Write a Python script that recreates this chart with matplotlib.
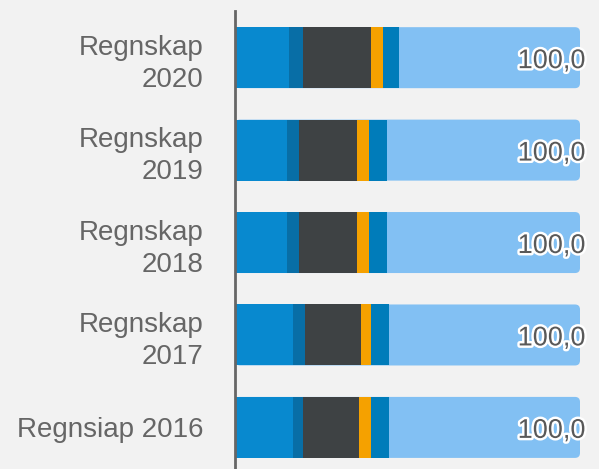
import matplotlib
matplotlib.use("Agg")
import matplotlib.pyplot as plt
import matplotlib.patheffects as pe
from matplotlib.patches import FancyBboxPatch
import numpy as np

plt.rcParams['font.family'] = ['Liberation Sans', 'DejaVu Sans']

categories = ["Regnskap\n2020", "Regnskap\n2019", "Regnskap\n2018", "Regnskap\n2017", "Regnsiap 2016"]
seg1 = [15.6, 15.1, 15.1, 16.8, 16.8]
seg2 = [4.1, 3.5, 3.5, 3.5, 2.9]
seg3 = [19.7, 16.8, 16.8, 16.2, 16.2]
seg4 = [3.5, 3.5, 3.5, 2.9, 3.5]
seg5 = [4.6, 5.2, 5.2, 5.2, 5.2]
seg6 = [52.5, 55.9, 55.9, 55.4, 55.4]
totals = [100.0, 100.0, 100.0, 100.0, 100.0]
total_labels = ["100,0", "100,0", "100,0", "100,0", "100,0"]

colors = ["#0889cf", "#086ea6", "#3e4244", "#f5a100", "#007cba", "#82c0f3"]
bg = "#f2f2f2"

W, H = 599, 469
fig = plt.figure(figsize=(W / 100, H / 100), dpi=100, facecolor=bg)
ax = fig.add_axes([235 / W, 0, (580 - 235) / W, (469 - 11) / H])
ax.set_facecolor(bg)

y = np.arange(len(categories))
bar_h = 0.66

# rounded light-blue background spanning full total (right corners visible)
px_x = (580 - 235) / 100.0
px_y = 92.0
r_units = 5 / px_x
aspect = (5 / px_y) / r_units
for yi, tot in zip(y, totals):
    p = FancyBboxPatch((0, yi - bar_h / 2), tot, bar_h,
                       boxstyle=f"round,pad=0,rounding_size={r_units}",
                       mutation_aspect=aspect, facecolor=colors[5],
                       edgecolor="none", zorder=1)
    ax.add_patch(p)

left = np.zeros(len(categories))
for vals, c in zip([seg1, seg2, seg3, seg4, seg5], colors[:5]):
    ax.barh(y, vals, left=left, height=bar_h, color=c, edgecolor="none", zorder=2)
    left += np.array(vals)

for yi, tot, lab in zip(y, totals, total_labels):
    ax.annotate(lab, xy=(tot, yi), xytext=(4, -2.5), textcoords="offset points",
                ha="right", va="center", fontsize=19.5, color="#595959",
                zorder=5, annotation_clip=False,
                path_effects=[pe.withStroke(linewidth=3.5, foreground="white")])

ax.set_xlim(0, 100)
ax.set_ylim(4.45, -0.505)
ax.set_yticks(y)
ax.set_yticklabels(categories, fontsize=20, color="#666666", linespacing=1.3)
ax.tick_params(axis="y", length=0, pad=22.5)
ax.set_xticks([])
for s in ["top", "right", "bottom"]:
    ax.spines[s].set_visible(False)
ax.spines["left"].set_color("#666666")
ax.spines["left"].set_linewidth(2)

fig.savefig("out.png", dpi=100, facecolor=bg)
